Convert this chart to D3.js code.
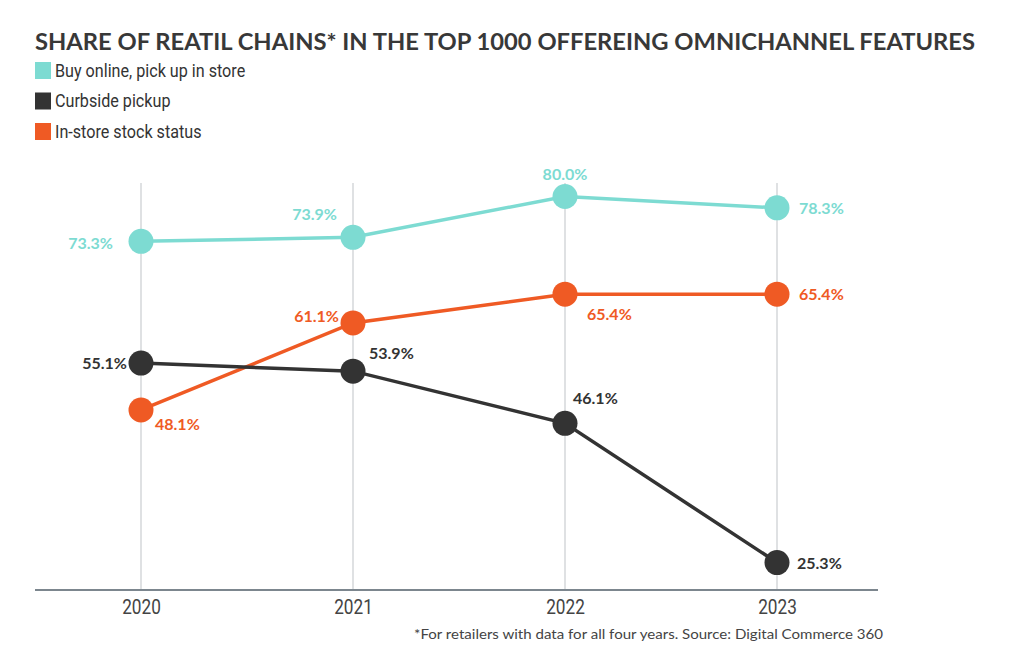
<!DOCTYPE html>
<html><head><meta charset="utf-8">
<script src="https://cdn.jsdelivr.net/npm/d3@7"></script>
<style>
body{margin:0;background:#fff;}
svg{display:block;}
</style></head>
<body>
<svg id="chart" width="1024" height="656"></svg>
<script>
const years = ["2020","2021","2022","2023"];
const seriesNames = ["Buy online, pick up in store","Curbside pickup","In-store stock status"];
const bopis = [73.3, 73.9, 80.0, 78.3];
const curbside = [55.1, 53.9, 46.1, 25.3];
const stockStatus = [48.1, 61.1, 65.4, 65.4];
const colors = ["#7ddbd2","#333333","#ef5a24"];
// label placement per point: [dx, dy, anchor]
const labelPos = [
  [[-28,8,"end"],[-16,-17,"end"],[0,-16,"middle"],[22,6,"start"]],
  [[-14,6,"end"],[16,-12,"start"],[8,-19,"start"],[20,6,"start"]],
  [[14,20,"start"],[-14,-1,"end"],[22,26,"start"],[22,6,"start"]]
];

const svg = d3.select("#chart");
const x = d3.scalePoint().domain(years).range([141,777]);
const y = d3.scaleLinear().domain([21.2, 85]).range([590, 163]);

// title
svg.append("text").attr("x",35).attr("y",50)
  .attr("font-family","Lato, 'Open Sans', sans-serif").attr("font-weight",700)
  .attr("font-size",23).attr("fill","#383838")
  .attr("textLength",940).attr("lengthAdjust","spacingAndGlyphs")
  .text("SHARE OF REATIL CHAINS* IN THE TOP 1000 OFFEREING OMNICHANNEL FEATURES");

// legend
const leg = svg.append("g");
seriesNames.forEach((n,i)=>{
  const yy = 62 + i*30.5;
  leg.append("rect").attr("x",35).attr("y",yy).attr("width",16).attr("height",17).attr("fill",colors[i]);
  leg.append("text").attr("x",55).attr("y",yy+15)
    .attr("font-family","Roboto, sans-serif").attr("font-size",19).attr("fill","#333")
    .attr("transform",`translate(${55},0) scale(0.85,1) translate(${-55},0)`)
    .text(n);
});

// gridlines
svg.append("g").selectAll("line").data(years).join("line")
  .attr("x1",d=>x(d)).attr("x2",d=>x(d)).attr("y1",183).attr("y2",590)
  .attr("stroke","#d4d7da").attr("stroke-width",1.5);

// axis
const xAxis = d3.axisBottom(x).tickSize(0).tickPadding(9);
const ax = svg.append("g").attr("transform","translate(0,590)").call(xAxis);
ax.select(".domain").remove();
ax.append("line").attr("x1",35).attr("x2",878).attr("y1",0).attr("y2",0).attr("stroke","#7c868e").attr("stroke-width",2);
ax.selectAll(".tick text").attr("font-family","Roboto, sans-serif").attr("font-size",21).attr("fill","#444")
  .attr("dy","0.71em").attr("transform","scale(0.82,1)");

const allSeries = [bopis, curbside, stockStatus];
const line = d3.line().x((d,i)=>x(years[i])).y(d=>y(d));
[0,2,1].forEach(si=>{
  svg.append("path").datum(allSeries[si]).attr("d",line)
    .attr("fill","none").attr("stroke",colors[si]).attr("stroke-width",3.5);
});
[0,2,1].forEach(si=>{
  const g = svg.append("g");
  g.selectAll("circle").data(allSeries[si]).join("circle")
    .attr("cx",(d,i)=>x(years[i])).attr("cy",d=>y(d)).attr("r",12.5).attr("fill",colors[si]);
  g.selectAll("text").data(allSeries[si]).join("text")
    .attr("x",(d,i)=>x(years[i])+labelPos[si][i][0])
    .attr("y",(d,i)=>y(d)+labelPos[si][i][1])
    .attr("text-anchor",(d,i)=>labelPos[si][i][2])
    .attr("font-family","Lato, sans-serif").attr("font-weight",700).attr("font-size",16)
    .attr("fill",colors[si])
    .text(d=>d.toFixed(1)+"%");
});

// footnote
svg.append("text").attr("x",883).attr("y",639).attr("text-anchor","end")
  .attr("font-family","Lato, sans-serif").attr("font-size",14).attr("fill","#444")
  .attr("textLength",469).attr("lengthAdjust","spacingAndGlyphs")
  .text("*For retailers with data for all four years. Source: Digital Commerce 360");
</script>
</body></html>
